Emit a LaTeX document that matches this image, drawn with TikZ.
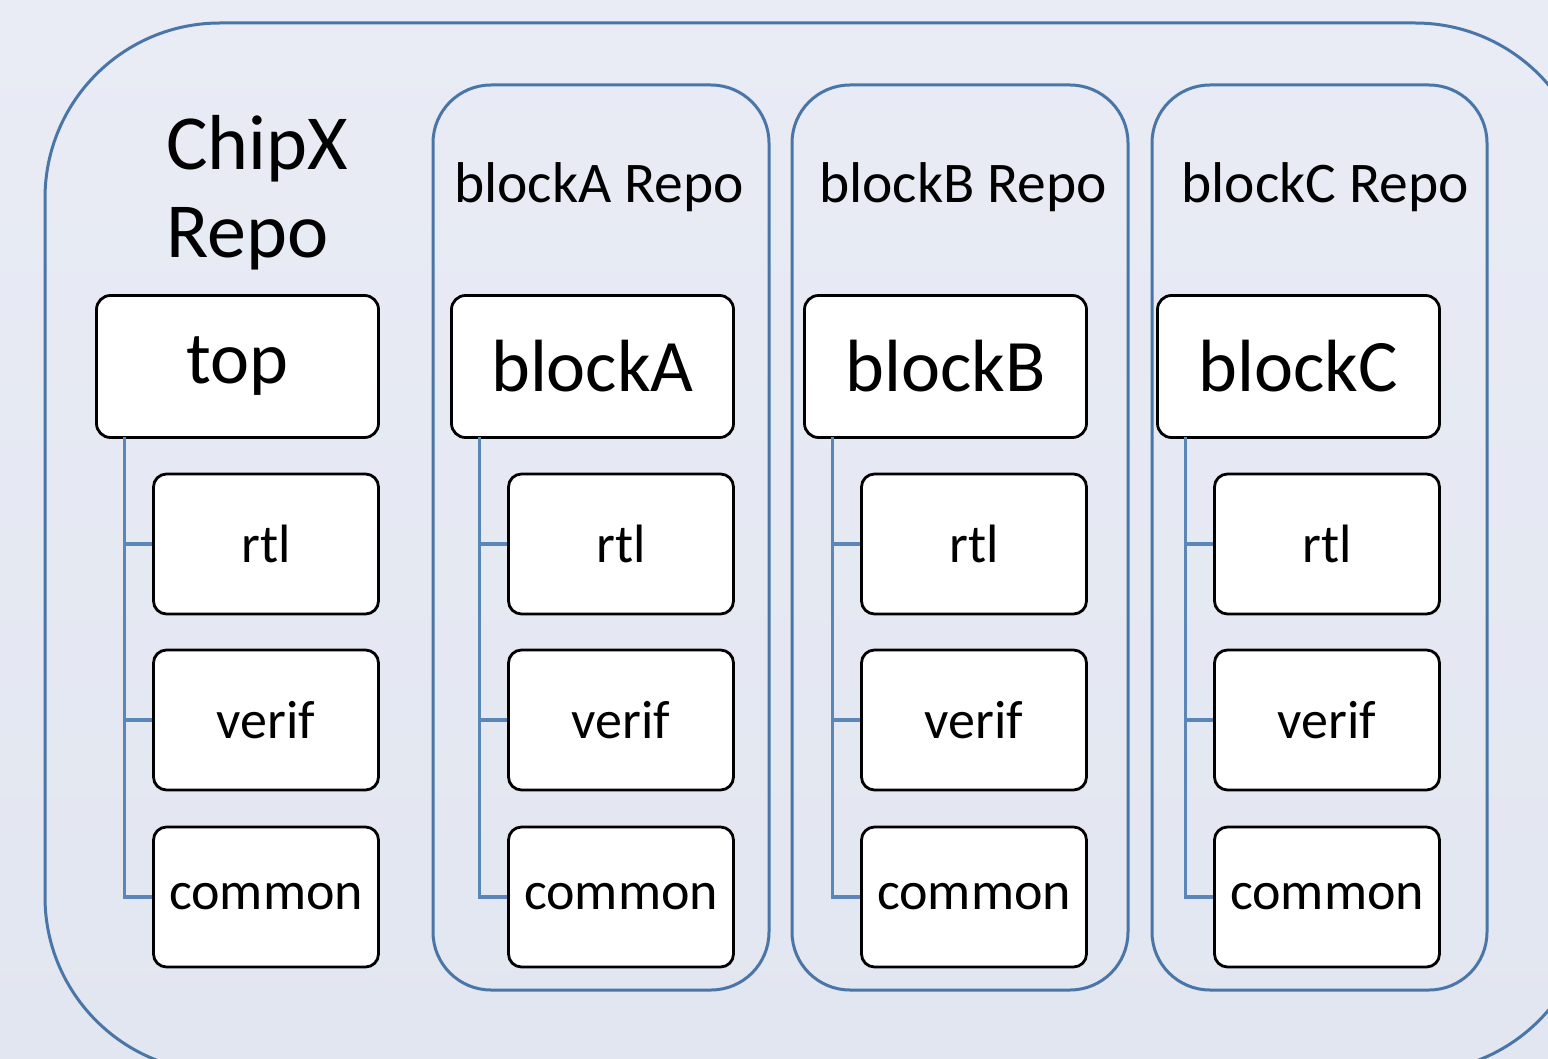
\documentclass[tikz,border=0pt]{standalone}
\usepackage{fontspec}
\setmainfont{Carlito}
\definecolor{bgtop}{HTML}{E9ECF5}
\definecolor{bgbot}{HTML}{E2E6F0}
\definecolor{frameblue}{HTML}{4A75A7}
\definecolor{treeblue}{HTML}{5A87B7}
\tikzset{
  repoframe/.style={draw=frameblue, line width=3pt, rounded corners=#1},
  bigbox/.style={draw=black, fill=white, line width=2.8pt, rounded corners=14pt,
    minimum width=282pt, minimum height=142pt, inner sep=0pt,
    font=\fontsize{74}{80}\selectfont},
  subbox/.style={draw=black, fill=white, line width=2.8pt, rounded corners=13pt,
    minimum width=225pt, minimum height=140pt, inner sep=0pt,
    font=\fontsize{54}{60}\selectfont},
  repolabel/.style={anchor=base, inner sep=0pt, font=\fontsize{57.5}{60}\selectfont},
  treeline/.style={draw=treeblue, line width=3.6pt},
}
\begin{document}
\begin{tikzpicture}[x=1pt,y=-1pt]
\useasboundingbox (0,0) rectangle (1548,1059);
\clip (0,0) rectangle (1548,1059);
\shade[top color=bgtop, bottom color=bgbot] (0,0) rectangle (1548,1059);
% outer ChipX repo frame
\draw[repoframe=175pt] (45,23) rectangle (1590,1072);
\node[anchor=base west, inner sep=0pt, align=left,
      font=\fontsize{78}{88}\selectfont] (chipx) at (166,258) {ChipX\\Repo};
% inner repo frames
\draw[repoframe=58pt] (433,85) rectangle (769,990);
\draw[repoframe=58pt] (792,85) rectangle (1128,990);
\draw[repoframe=58pt] (1152,85) rectangle (1487,990);
\node[repolabel] (labA) at (599,203) {blockA Repo};
\node[repolabel] (labB) at (963,203) {blockB Repo};
\node[repolabel] (labC) at (1325,203) {blockC Repo};
% columns
\foreach \nm/\lbl/\bx in {top/top/96, A/blockA/451, B/blockB/804, C/blockC/1157}{
  \node[bigbox] (\nm-main) at ({\bx+141.5},366.5) {\lbl};
  \node[subbox] (\nm-rtl) at ({\bx+57+113},544) {rtl};
  \node[subbox] (\nm-verif) at ({\bx+57+113},720) {verif};
  \node[subbox] (\nm-common) at ({\bx+57+113},897) {common};
  \coordinate (\nm-root) at ({\bx+28.5},437);
  \path[treeline] (\nm-root) |- (\nm-common.west);
  \path[treeline] (\nm-root |- \nm-rtl.west) -- (\nm-rtl.west);
  \path[treeline] (\nm-root |- \nm-verif.west) -- (\nm-verif.west);
}
\end{tikzpicture}
\end{document}
